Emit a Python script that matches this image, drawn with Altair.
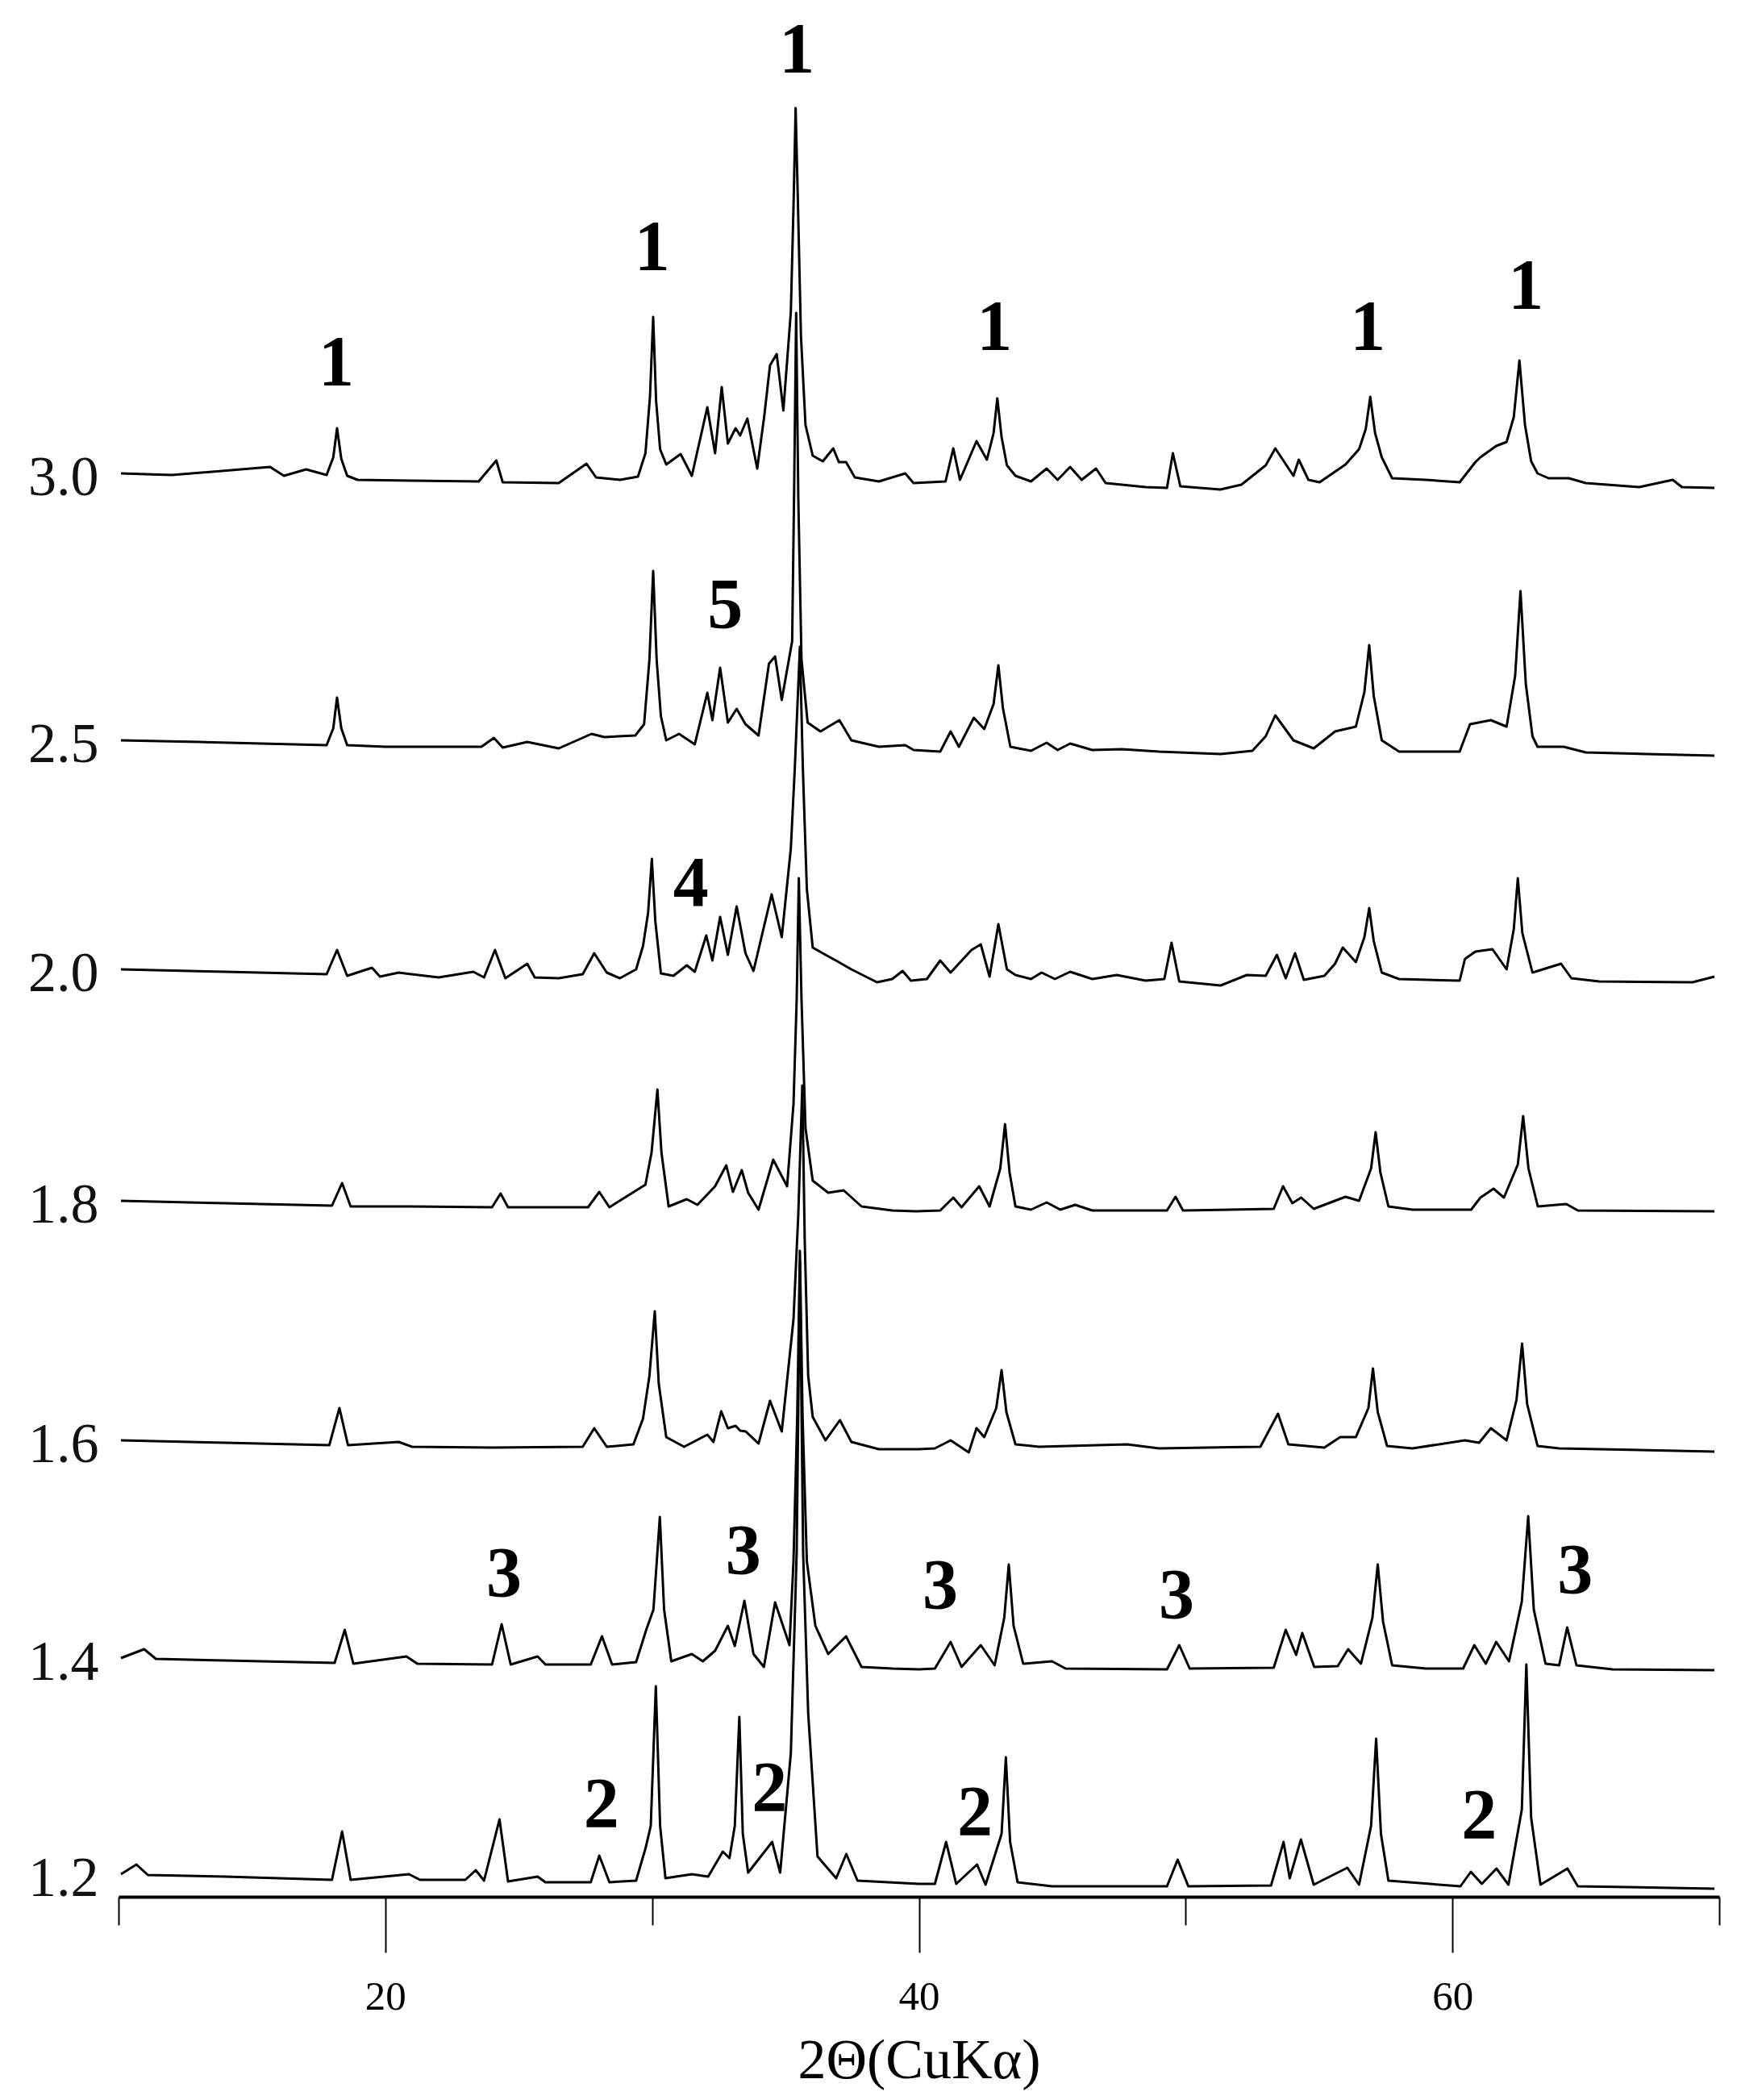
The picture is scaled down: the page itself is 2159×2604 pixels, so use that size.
import altair as alt
import pandas as pd

# trace names (y tick labels) and their baseline offsets (plot units = px above x axis)
trace_labels = ["3.0", "2.5", "2.0", "1.8", "1.6", "1.4", "1.2"]
trace_offsets = [1765, 1434, 1150, 863, 566, 296, 28]

# (2theta, intensity above baseline)
t30 = [(10.09,0),(12.0,-2),(15.68,8),(16.2,-3),(17.03,5),(17.8,-2),(18.05,20),(18.19,56),(18.35,18),(18.57,-3),(18.96,-8),(21.0,-9),(23.5,-10),(24.16,16),(24.4,-11),(26.5,-12),(27.54,12),(27.9,-5),(28.8,-8),(29.47,-4),(29.75,25),(29.92,95),(30.04,194),(30.15,90),(30.3,30),(30.53,11),(31.07,24),(31.49,-3),(32.07,82),(32.36,25),(32.61,107),(32.84,37),(33.13,56),(33.3,47),(33.57,68),(33.94,6),(34.2,70),(34.42,134),(34.67,148),(34.92,78),(35.2,200),(35.3,330),(35.38,453),(35.47,330),(35.58,170),(35.75,60),(36.02,22),(36.4,15),(36.79,31),(37.0,14),(37.27,14),(37.6,-5),(38.5,-10),(39.49,0),(39.8,-12),(41.0,-10),(41.29,31),(41.54,-8),(42.16,40),(42.55,17),(42.8,50),(42.94,93),(43.1,45),(43.3,10),(43.62,-3),(44.2,-10),(44.79,6),(45.2,-8),(45.67,8),(46.1,-8),(46.64,6),(47.0,-12),(48.5,-17),(49.3,-18),(49.52,25),(49.8,-16),(51.3,-20),(52.09,-14),(53.0,10),(53.36,31),(54.04,-3),(54.24,17),(54.6,-8),(55.02,-11),(55.99,11),(56.5,30),(56.75,55),(56.92,95),(57.1,50),(57.35,20),(57.74,-6),(59.0,-8),(60.27,-11),(60.86,14),(61.05,20),(61.64,34),(62.03,39),(62.3,70),(62.51,140),(62.72,60),(62.95,15),(63.19,0),(63.6,-6),(64.36,-6),(65.0,-12),(67.0,-17),(68.26,-8),(68.6,-17),(69.82,-18)]
t25 = [(10.09,0),(13.0,-2),(17.8,-6),(18.05,15),(18.19,53),(18.35,15),(18.57,-6),(20.0,-8),(23.6,-8),(24.07,3),(24.4,-9),(25.32,-2),(26.5,-10),(27.73,8),(28.21,4),(29.37,6),(29.7,20),(29.9,100),(30.04,210),(30.17,100),(30.33,30),(30.53,0),(31.01,8),(31.6,-5),(32.07,59),(32.26,25),(32.55,90),(32.84,22),(33.17,39),(33.5,20),(33.99,6),(34.38,95),(34.61,104),(34.86,50),(35.25,123),(35.32,300),(35.4,530),(35.48,300),(35.6,100),(35.83,22),(36.31,11),(37.02,25),(37.47,0),(38.5,-8),(39.49,-6),(39.8,-12),(40.8,-14),(41.19,11),(41.5,-8),(42.06,28),(42.45,14),(42.8,45),(42.98,93),(43.15,40),(43.43,-8),(44.2,-13),(44.79,-3),(45.2,-12),(45.67,-4),(46.5,-12),(47.61,-11),(49.0,-14),(51.31,-17),(52.5,-13),(53.0,5),(53.36,31),(54.04,0),(54.8,-10),(55.6,11),(56.38,17),(56.7,60),(56.88,118),(57.05,55),(57.35,0),(58.0,-14),(60.27,-14),(60.66,20),(61.44,25),(62.03,17),(62.35,80),(62.55,185),(62.75,70),(63.0,5),(63.19,-8),(64.17,-8),(65.0,-15),(69.82,-19)]
t20 = [(10.09,0),(14.0,-3),(17.8,-6),(18.19,24),(18.57,-8),(19.5,2),(19.8,-9),(20.5,-4),(22.0,-10),(23.3,-3),(23.7,-10),(24.11,24),(24.5,-11),(25.32,7),(25.6,-10),(26.5,-11),(27.4,-6),(27.83,20),(28.3,-4),(28.79,-11),(29.4,0),(29.66,29),(29.85,70),(29.99,137),(30.12,60),(30.33,-5),(30.8,-8),(31.3,5),(31.6,-3),(32.03,42),(32.26,11),(32.55,65),(32.84,18),(33.17,78),(33.5,20),(33.8,-2),(34.48,93),(34.86,40),(35.2,150),(35.35,250),(35.54,400),(35.65,250),(35.8,100),(36.02,27),(36.5,18),(36.89,11),(37.47,0),(38.43,-16),(39.0,-12),(39.39,-2),(39.7,-14),(40.3,-12),(40.8,11),(41.19,-4),(41.97,24),(42.32,31),(42.65,-9),(42.98,56),(43.3,0),(43.62,-7),(44.2,-12),(44.6,-4),(45.1,-12),(45.67,-3),(46.5,-12),(47.42,-7),(48.5,-14),(49.2,-12),(49.47,33),(49.76,-15),(51.31,-20),(52.29,-7),(53.0,-8),(53.42,18),(53.75,-11),(54.1,20),(54.43,-13),(55.2,-8),(55.6,7),(55.89,27),(56.38,9),(56.7,40),(56.88,76),(57.05,35),(57.35,-4),(58.0,-12),(60.27,-14),(60.47,13),(60.86,22),(61.5,25),(62.03,0),(62.3,50),(62.45,113),(62.62,45),(63.0,-4),(64.07,7),(64.46,-11),(65.5,-15),(69.0,-16),(69.82,-9)]
t18 = [(10.09,0),(14.0,-3),(18.0,-6),(18.38,22),(18.7,-7),(21.0,-7),(24.0,-8),(24.32,9),(24.6,-8),(27.6,-8),(28.02,11),(28.4,-8),(29.75,20),(29.98,60),(30.2,138),(30.35,60),(30.62,-7),(31.3,2),(31.7,-5),(32.36,18),(32.78,44),(33.03,11),(33.36,38),(33.6,10),(33.99,-11),(34.54,51),(35.06,18),(35.3,120),(35.42,250),(35.5,400),(35.6,250),(35.75,90),(36.02,25),(36.6,10),(37.18,13),(37.85,-7),(39.0,-12),(39.9,-13),(40.8,-12),(41.29,4),(41.6,-8),(42.26,18),(42.65,-7),(43.05,40),(43.23,95),(43.4,35),(43.62,-7),(44.2,-11),(44.79,-2),(45.3,-11),(45.86,-5),(46.5,-12),(49.3,-12),(49.62,5),(49.9,-12),(53.3,-10),(53.65,18),(54.0,-3),(54.33,4),(54.8,-10),(55.99,5),(56.5,0),(56.95,40),(57.12,85),(57.3,35),(57.6,-7),(58.5,-11),(60.7,-11),(61.05,4),(61.54,15),(61.93,4),(62.45,45),(62.65,105),(62.85,40),(63.2,-7),(64.27,-4),(64.7,-12),(69.82,-13)]
t16 = [(10.09,0),(14.0,-3),(17.9,-6),(18.28,40),(18.6,-6),(20.5,-2),(21.0,-8),(24.0,-9),(27.4,-8),(27.83,15),(28.3,-8),(29.3,-5),(29.66,27),(29.9,80),(30.1,160),(30.25,70),(30.53,4),(31.2,-8),(32.07,7),(32.3,-2),(32.59,36),(32.84,15),(33.13,18),(33.3,12),(33.51,11),(33.99,-4),(34.42,49),(34.86,11),(35.3,150),(35.48,280),(35.63,440),(35.72,250),(35.85,80),(36.02,29),(36.5,0),(37.04,25),(37.47,-2),(38.5,-11),(40.0,-11),(40.6,-10),(41.19,0),(41.87,-15),(42.16,15),(42.45,4),(42.9,40),(43.1,87),(43.28,35),(43.62,-5),(44.5,-8),(47.81,-5),(49.0,-10),(52.8,-8),(53.46,33),(53.85,-5),(55.2,-9),(55.79,4),(56.38,4),(56.85,40),(57.02,89),(57.2,35),(57.55,-7),(58.5,-10),(60.47,0),(61.0,-3),(61.44,15),(62.03,0),(62.4,50),(62.61,120),(62.8,45),(63.19,-7),(64.0,-10),(69.82,-14)]
t14 = [(10.09,0),(10.96,11),(11.4,-1),(14.0,-3),(18.1,-6),(18.48,35),(18.8,-7),(20.79,2),(21.2,-7),(24.0,-8),(24.36,42),(24.7,-8),(25.71,2),(26.0,-8),(27.7,-8),(28.12,27),(28.5,-8),(29.4,-5),(29.79,36),(30.05,60),(30.29,175),(30.45,60),(30.72,-4),(31.49,5),(31.9,-4),(32.36,9),(32.84,40),(33.1,15),(33.46,71),(33.8,5),(34.19,-11),(34.61,69),(35.15,16),(35.3,120),(35.44,300),(35.54,505),(35.64,300),(35.8,120),(36.12,40),(36.6,5),(37.27,27),(37.85,-11),(39.0,-13),(40.0,-14),(40.6,-13),(41.19,20),(41.6,-11),(42.32,16),(42.84,-9),(43.2,50),(43.37,116),(43.55,40),(43.91,-7),(44.99,-4),(45.5,-13),(49.3,-14),(49.76,16),(50.15,-13),(53.3,-12),(53.75,35),(54.14,4),(54.37,31),(54.82,-11),(55.7,-10),(56.09,11),(56.57,-7),(57.0,50),(57.2,116),(57.4,45),(57.74,-9),(59.0,-13),(60.4,-13),(60.82,16),(61.25,-7),(61.64,20),(62.12,-4),(62.6,70),(62.84,176),(63.05,60),(63.49,-7),(64.0,-9),(64.3,38),(64.65,-9),(66.0,-14),(69.82,-15)]
t12 = [(10.09,0),(10.67,12),(11.1,-1),(14.0,-3),(18.0,-7),(18.38,53),(18.7,-7),(20.89,0),(21.3,-7),(23.0,-7),(23.39,5),(23.7,-8),(24.28,68),(24.6,-9),(25.71,-3),(26.0,-10),(27.7,-10),(28.02,23),(28.4,-10),(29.4,-8),(29.76,33),(29.95,60),(30.14,233),(30.3,60),(30.5,-5),(31.49,0),(32.1,-3),(32.65,28),(32.9,20),(33.1,60),(33.27,195),(33.4,50),(33.6,2),(34.5,40),(34.8,2),(35.2,150),(35.42,400),(35.54,760),(35.66,400),(35.85,200),(36.2,22),(36.9,-5),(37.28,25),(37.7,-8),(40.0,-12),(40.6,-12),(41.02,40),(41.4,-12),(42.18,12),(42.5,-13),(43.1,50),(43.26,145),(43.42,40),(43.7,-10),(45.0,-15),(49.3,-15),(49.7,18),(50.1,-15),(53.2,-14),(53.67,40),(53.9,-5),(54.32,43),(54.8,-13),(56.06,8),(56.5,-13),(56.95,60),(57.14,168),(57.32,50),(57.6,-8),(60.3,-15),(60.69,3),(61.1,-12),(61.65,7),(62.1,-13),(62.6,80),(62.77,260),(62.95,70),(63.3,-13),(64.31,7),(64.7,-15),(69.82,-18)]

traces = [t30, t25, t20, t18, t16, t14, t12]

# peak annotations: text, 2theta, height (plot units)
ann_text = ["1", "1", "1", "1", "1", "1", "5", "4", "3", "3", "3", "3", "3", "2", "2", "2", "2"]
ann_x = [18.16, 30.0, 35.43, 42.83, 56.83, 62.75, 32.74, 31.45, 24.45, 33.42, 40.8, 49.66, 64.6, 28.1, 34.4, 42.1, 61.0]
ann_y = [1901, 2044, 2289, 1945, 1945, 1996, 1600, 1255, 399, 427, 384, 372, 403, 113, 133, 103, 99]

x_ticks = [10, 20, 30, 40, 50, 60, 70]

rows = []
for name, off, pts in zip(trace_labels, trace_offsets, traces):
    for i, (xv, hv) in enumerate(pts):
        rows.append({"trace": name, "i": i, "x": xv, "y": off + hv})
df = pd.DataFrame(rows)

ann_df = pd.DataFrame({"t": ann_text, "x": ann_x, "y": ann_y})

FONT = "Liberation Serif"
y_expr = " : ".join(f"datum.value == {o} ? '{l}'" for o, l in zip(trace_offsets, trace_labels)) + " : ''"

x_scale = alt.Scale(domain=[10, 70], nice=False, zero=False)
y_scale = alt.Scale(domain=[0, 2339], nice=False, zero=False)

x_axis = alt.Axis(
    values=x_ticks,
    title="2\u0398(CuK\u03b1)",
    titleFont=FONT, titleFontSize=70, titleFontWeight="normal", titleColor="black",
    titlePadding=20,
    labelFont=FONT, labelFontSize=51, labelColor="black",
    labelExpr="datum.value % 20 == 0 ? datum.label : ''",
    labelPadding=30,
    labelFlush=False,
    grid=False,
    domainColor="black", domainWidth=4,
    tickColor="black", tickWidth=2,
    tickSize={"condition": {"test": "datum.value % 20 == 0", "value": 69}, "value": 35},
)
y_axis = alt.Axis(
    values=trace_offsets,
    labelExpr=y_expr,
    title=None,
    domain=False, ticks=False, grid=False,
    labelFont=FONT, labelFontSize=70, labelColor="#111111",
    labelPadding=25, labelOffset=5, labelBaseline="middle",
)

lines = alt.Chart(df).mark_line(color="black", strokeWidth=3, strokeJoin="round").encode(
    x=alt.X("x:Q", scale=x_scale, axis=x_axis),
    y=alt.Y("y:Q", scale=y_scale, axis=y_axis),
    detail="trace:N",
    order="i:Q",
)

texts = alt.Chart(ann_df).mark_text(
    font=FONT, fontSize=88, fontWeight="bold", color="black", align="center", baseline="middle"
).encode(
    x=alt.X("x:Q", scale=x_scale),
    y=alt.Y("y:Q", scale=y_scale),
    text="t:N",
)

chart = alt.layer(lines, texts).properties(
    width=1985, height=2339,
    padding={"left": 26, "top": 5, "right": 5, "bottom": 2},
    background="white",
).configure_view(stroke=None)

chart.save("out.html", embed_options={"renderer": "svg", "actions": False})
